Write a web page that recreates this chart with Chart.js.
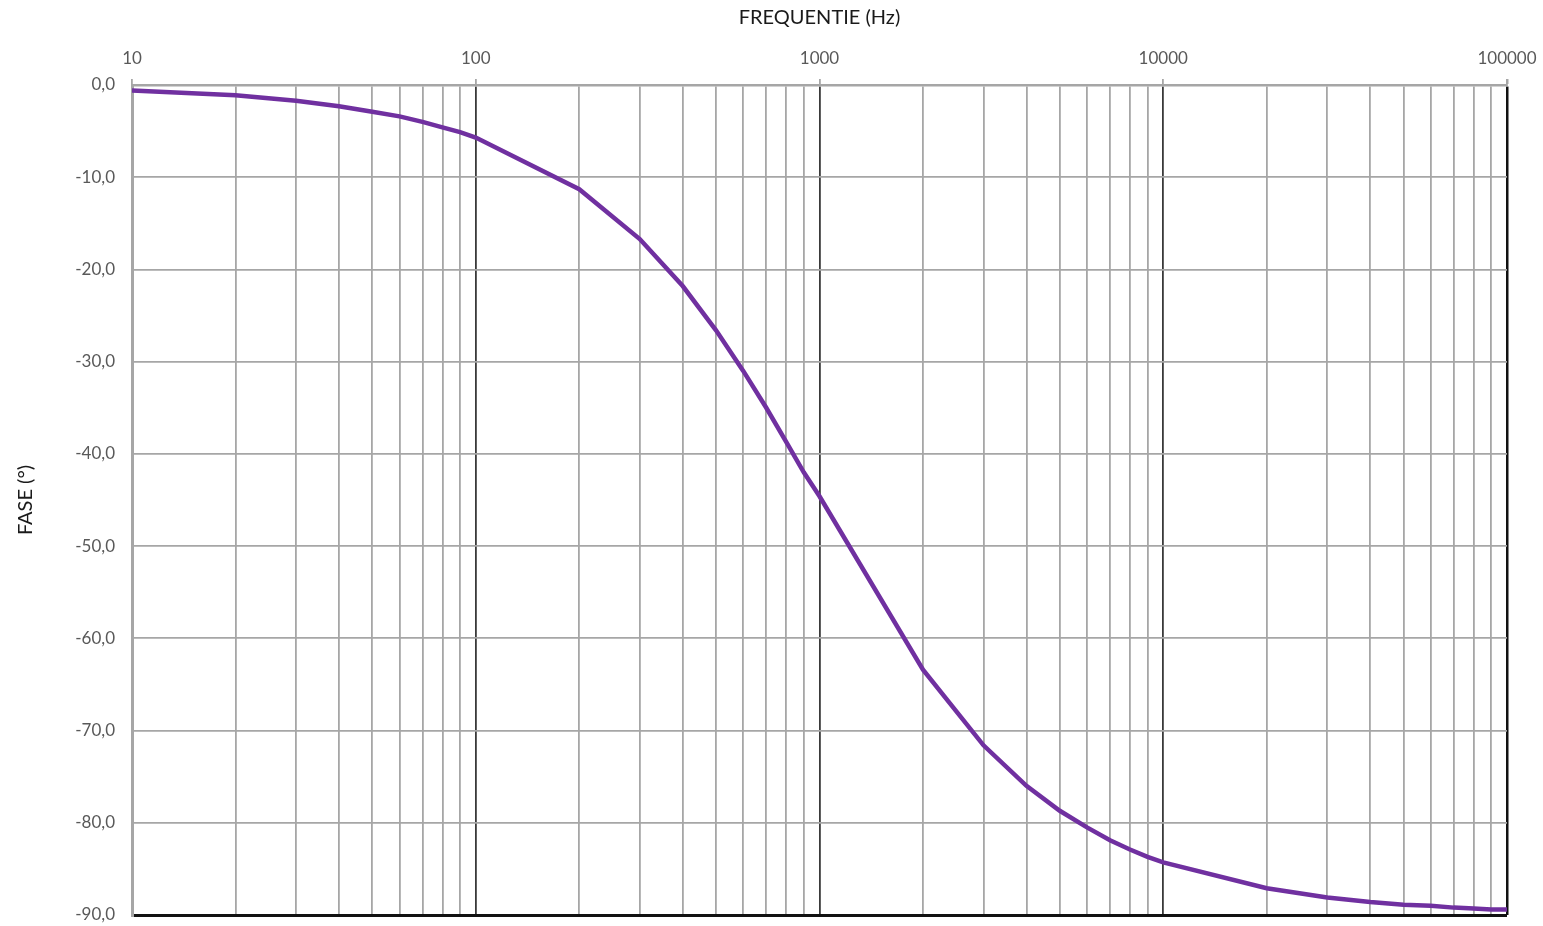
<!DOCTYPE html>
<html>
<head>
<meta charset="utf-8">
<script src="https://cdn.jsdelivr.net/npm/chart.js@4"></script>
<style>
  html, body { margin: 0; padding: 0; background: #fff; }
  #wrap { width: 1543px; height: 926px; }
</style>
</head>
<body>
<div id="wrap"><canvas id="fase"></canvas></div>
<script>
const frequencies = [10, 20, 30, 40, 50, 60, 70, 80, 90,
  100, 200, 300, 400, 500, 600, 700, 800, 900,
  1000, 2000, 3000, 4000, 5000, 6000, 7000, 8000, 9000,
  10000, 20000, 30000, 40000, 50000, 60000, 70000, 80000, 90000, 100000];
const phase = [-0.6, -1.1, -1.7, -2.3, -2.9, -3.4, -4.0, -4.6, -5.1,
  -5.7, -11.3, -16.7, -21.8, -26.6, -31.0, -35.0, -38.7, -42.0,
  -44.6, -63.4, -71.6, -76.0, -78.7, -80.5, -81.9, -82.9, -83.7,
  -84.3, -87.1, -88.1, -88.6, -88.9, -89.0, -89.2, -89.3, -89.4, -89.4];
const decadeLabels = [10, 100, 1000, 10000, 100000];

const isDecade = v => decadeLabels.includes(Math.round(v));

const ctx = document.getElementById('fase');
new Chart(ctx, {
  type: 'line',
  data: {
    datasets: [{
      label: 'Fase',
      data: frequencies.map((f, i) => ({ x: f, y: phase[i] })),
      borderColor: '#7030a0',
      borderWidth: 4.5,
      pointRadius: 0,
      tension: 0,
      fill: false
    }]
  },
  options: {
    responsive: true,
    maintainAspectRatio: false,
    animation: false,
    layout: { padding: { left: 0, right: 36, top: 0, bottom: 11 } },
    plugins: { legend: { display: false }, tooltip: { enabled: false } },
    scales: {
      x: {
        type: 'logarithmic',
        position: 'top',
        min: 10,
        max: 100000,
        afterBuildTicks: s => { s.ticks = frequencies.map(v => ({ value: v, major: isDecade(v) })); },
        afterFit: s => { s.height = 85; s.paddingLeft = 0; s.paddingRight = 0; },
        title: {
          display: true,
          text: 'FREQUENTIE (Hz)',
          color: '#1a1a1a',
          font: { family: 'Lato', size: 20 },
          padding: { top: 6, bottom: 12 }
        },
        ticks: {
          autoSkip: false,
          maxRotation: 0,
          color: '#595959',
          font: { family: 'Lato', size: 17 },
          padding: 10,
          callback: v => isDecade(v) ? String(Math.round(v)) : ''
        },
        grid: {
          lineWidth: c => (c.tick && c.tick.value === 100000) ? 2.5 : 1.8,
          color: c => {
            if (!c.tick) return '#a6a6a6';
            if (c.tick.value === 100000) return '#111111';
            return isDecade(c.tick.value) && c.tick.value !== 10 ? '#3a3a3a' : '#a6a6a6';
          },
          tickColor: c => (c.tick && isDecade(c.tick.value)) ? '#a6a6a6' : 'rgba(0,0,0,0)',
          tickLength: 6
        },
        border: { color: '#a6a6a6', width: 2.5 }
      },
      y: {
        min: -90,
        max: 0,
        afterFit: s => { s.width = 132; s.paddingTop = 0; s.paddingBottom = 0; },
        title: {
          display: true,
          text: 'FASE (°)',
          color: '#1a1a1a',
          font: { family: 'Lato', size: 20 },
          padding: { top: 14, bottom: 0 }
        },
        ticks: {
          stepSize: 10,
          color: '#595959',
          font: { family: 'Lato', size: 17 },
          padding: 17,
          callback: v => v.toFixed(1).replace('.', ',')
        },
        grid: {
          drawTicks: false,
          lineWidth: c => (c.tick && c.tick.value === -90) ? 3 : 1.8,
          color: c => (c.tick && c.tick.value === -90) ? '#111111' : '#a6a6a6'
        },
        border: { color: '#a6a6a6', width: 3 }
      }
    }
  }
});
</script>
</body>
</html>
